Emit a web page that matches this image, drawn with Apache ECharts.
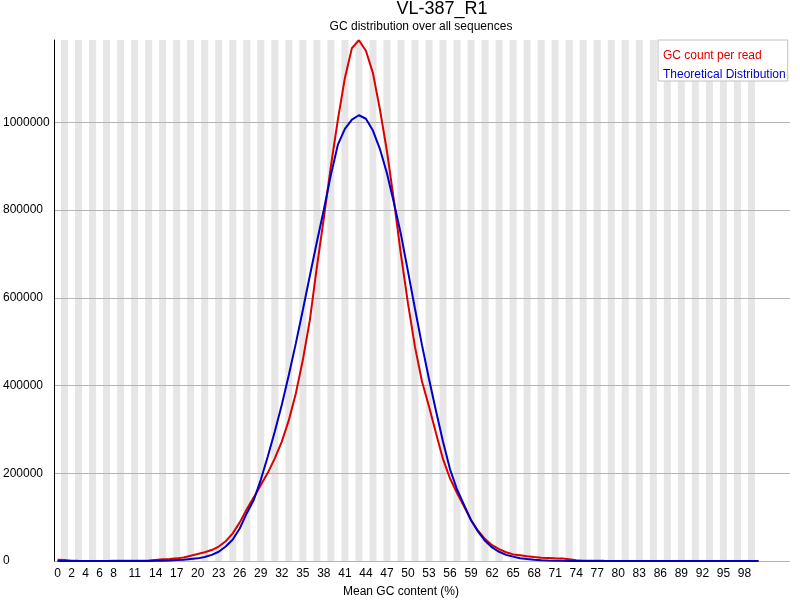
<!DOCTYPE html>
<html>
<head>
<meta charset="utf-8">
<script src="https://cdn.jsdelivr.net/npm/echarts@6/dist/echarts.min.js"></script>
<style>
  html, body { margin: 0; padding: 0; background: #fff; }
  #chart { width: 800px; height: 600px; }
</style>
</head>
<body>
<div id="chart"></div>
<script>
// mean GC content, 0..100 % (the axis keeps a few empty slots on the right)
var gcCount = 101;
var slotCount = 105;

// labels FastQC printed under the axis
var xTickLabels = ['0', '2', '4', '6', '8', '11', '14', '17', '20', '23', '26', '29', '32', '35',
    '38', '41', '44', '47', '50', '53', '56', '59', '62', '65', '68', '71', '74', '77', '80', '83',
    '86', '89', '92', '95', '98'];

var countPerRead = [
    3000, 2500, 500, 300, 200, 200, 200, 200, 300, 300,
    400, 500, 700, 1000, 2500, 4000, 4500, 6000, 8000, 12000,
    16000, 20000, 25000, 33000, 45000, 63000, 88000, 118000, 145000, 173000,
    201000, 234000, 272000, 321000, 382000, 458000, 549000, 670000, 782000, 900000,
    1006000, 1101000, 1169000, 1187000, 1163000, 1112000, 1029000, 934000, 821000, 698000,
    587000, 488000, 409000, 352000, 291000, 232000, 188000, 155000, 124000, 93000,
    69000, 50000, 36000, 27000, 20000, 15000, 13000, 10600, 9000, 7600,
    6800, 6000, 5500, 4000, 1500, 800, 600, 400, 300, 200,
    200, 200, 100, 100, 100, 100, 100, 100, 100, 100,
    100, 100, 100, 100, 100, 100, 100, 100, 100, 100,
    100
];

var theoretical = [
    0, 0, 0, 0, 0, 0, 0, 0, 0, 0,
    0, 0, 50, 100, 300, 500, 1000, 2000, 3000, 4500,
    6000, 9000, 14000, 21000, 33000, 49000, 74000, 109000, 139000, 185000,
    238000, 295000, 356000, 424000, 496000, 572000, 650000, 727000, 801000, 880000,
    949000, 985000, 1006000, 1016000, 1008000, 981000, 939000, 884000, 816000, 744000,
    660000, 575000, 492000, 415000, 342000, 272000, 209000, 163000, 128000, 93000,
    67000, 46000, 31000, 21000, 14000, 10000, 6500, 4300, 2800, 1800,
    1100, 700, 400, 250, 150, 100, 50, 0, 0, 0,
    0, 0, 0, 0, 0, 0, 0, 0, 0, 0,
    0, 0, 0, 0, 0, 0, 0, 0, 0, 0,
    0
];

var yMax = 1187500;

var categories = [];
var stripes = [];
for (var i = 0; i < slotCount; i++) {
    categories.push(String(i));
    // grey band on every odd GC value that has data
    stripes.push(i % 2 === 1 && i < gcCount ? yMax : null);
}

var font = 'Liberation Sans, Arial, sans-serif';
var chart = echarts.init(document.getElementById('chart'), null, { renderer: 'canvas' });

chart.setOption({
    animation: false,
    textStyle: { fontFamily: font },
    title: [
        {
            text: 'VL-387_R1',
            left: 442,
            top: 0,
            textAlign: 'center',
            padding: 0,
            textStyle: { fontFamily: font, fontSize: 18, fontWeight: 'normal', color: '#000' }
        },
        {
            text: 'GC distribution over all sequences',
            left: 421,
            top: 21,
            textAlign: 'center',
            padding: 0,
            textStyle: { fontFamily: font, fontSize: 12, fontWeight: 'normal', color: '#000' }
        }
    ],
    legend: {
        orient: 'vertical',
        left: 658,
        top: 40,
        padding: [9, 2, 0, 0],
        itemGap: 6,
        itemWidth: 0,
        itemHeight: 14,
        icon: 'none',
        selectedMode: false,
        backgroundColor: '#fff',
        borderColor: '#c0c0c0',
        borderWidth: 1,
        data: [
            { name: 'GC count per read', textStyle: { color: '#dc0000' } },
            { name: 'Theoretical Distribution', textStyle: { color: '#0000c8' } }
        ],
        textStyle: { fontFamily: font, fontSize: 12 }
    },
    grid: { left: 54, top: 40, right: 10, bottom: 39, outerBoundsMode: 'none' },
    xAxis: {
        type: 'category',
        data: categories,
        boundaryGap: true,
        axisLine: { show: false },
        axisTick: { show: false },
        axisLabel: {
            margin: 7,
            color: '#000',
            fontSize: 12,
            fontFamily: font,
            interval: function (idx, val) { return xTickLabels.indexOf(val) !== -1; }
        },
        splitLine: { show: false },
        name: 'Mean GC content (%)',
        nameLocation: 'middle',
        nameGap: 25,
        nameTextStyle: { color: '#000', fontSize: 12, fontFamily: font, padding: [0, 42, 0, 0] }
    },
    yAxis: {
        type: 'value',
        min: 0,
        max: yMax,
        interval: 200000,
        axisLine: { show: true, lineStyle: { color: '#000', width: 1 } },
        axisTick: { show: false },
        axisLabel: {
            align: 'left',
            margin: 51,
            color: '#000',
            fontSize: 12,
            fontFamily: font,
            showMaxLabel: false,
            padding: [2, 0, 0, 0],
            formatter: function (v) { return String(v); }
        },
        splitLine: { show: true, showMaxLine: false, lineStyle: { color: '#b4b4b4', width: 1 } }
    },
    series: [
        {
            name: 'stripes',
            type: 'bar',
            data: stripes,
            barWidth: '100%',
            silent: true,
            z: -1,
            itemStyle: { color: '#e6e6e6' }
        },
        {
            name: 'GC count per read',
            type: 'line',
            data: countPerRead,
            showSymbol: false,
            smooth: false,
            z: 3,
            lineStyle: { color: '#dc0000', width: 2 },
            itemStyle: { color: '#dc0000' }
        },
        {
            name: 'Theoretical Distribution',
            type: 'line',
            data: theoretical,
            showSymbol: false,
            smooth: false,
            z: 4,
            lineStyle: { color: '#0000c8', width: 2 },
            itemStyle: { color: '#0000c8' }
        }
    ]
});
</script>
</body>
</html>
